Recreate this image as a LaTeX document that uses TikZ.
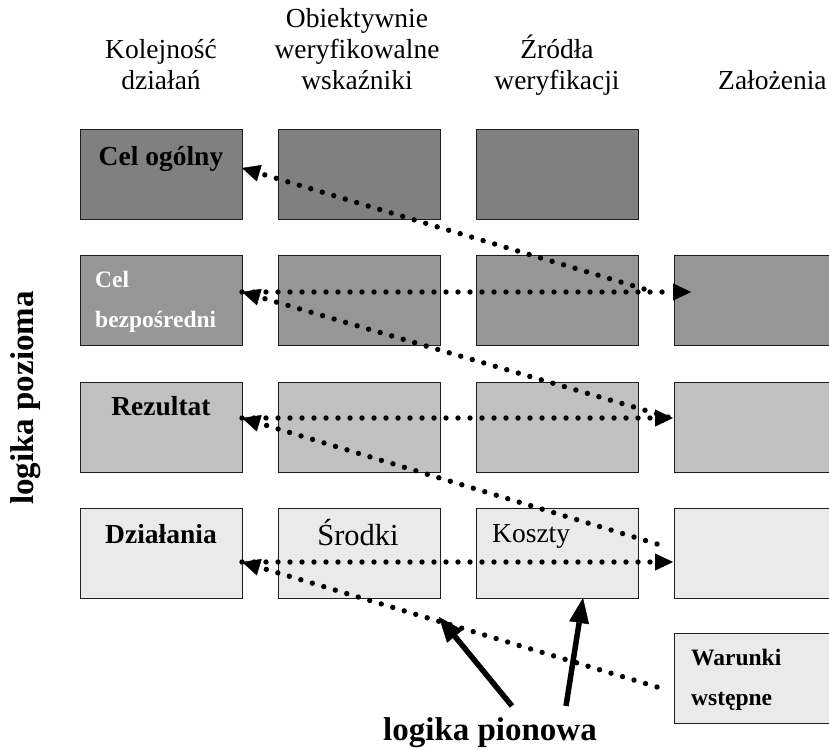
\documentclass[tikz,border=0pt]{standalone}
\usepackage{fontspec}
\setmainfont{Liberation Serif}
\usetikzlibrary{arrows.meta}
\definecolor{rowA}{RGB}{128,128,128}
\definecolor{rowB}{RGB}{150,150,150}
\definecolor{rowC}{RGB}{192,192,192}
\definecolor{rowD}{RGB}{234,234,234}
\definecolor{edge}{RGB}{30,30,30}
\begin{document}
\begin{tikzpicture}[x=1pt,y=-1pt,
  box/.style={draw=edge, line width=1.4pt, minimum width=162pt, minimum height=90pt, inner sep=0pt, anchor=north west},
  hdr/.style={font=\fontsize{27.5}{31}\selectfont, inner sep=0pt, anchor=base},
  lbl/.style={font=\fontsize{27.5}{31}\selectfont\bfseries, inner sep=0pt, anchor=base},
  small/.style={font=\fontsize{23.5}{28}\selectfont\bfseries, inner sep=0pt, anchor=base west},
  big/.style={font=\fontsize{30.5}{34}\selectfont, inner sep=0pt, anchor=base},
  logic/.style={font=\fontsize{33}{38}\selectfont\bfseries, inner sep=0pt, anchor=base},
  dotl/.style={line width=5.4pt, line cap=round, dash pattern=on 0pt off 12pt,
    -{Triangle[length=18pt,width=17pt,line width=0.4pt]}},
  thk/.style={line width=5.5pt, -{Triangle[length=25pt,width=20pt,line width=0.4pt]}}
]
\useasboundingbox (0,0) rectangle (829,749);

% headers
\node[hdr] (h1a) at (161,59) {Kolejność};
\node[hdr] (h1b) at (161,90) {działań};
\node[hdr] (h2a) at (357,28) {Obiektywnie};
\node[hdr] (h2b) at (357,59) {weryfikowalne};
\node[hdr] (h2c) at (357,90) {wskaźniki};
\node[hdr] (h3a) at (557,59) {Źródła};
\node[hdr] (h3b) at (557,90) {weryfikacji};
\node[hdr, anchor=base west] (h4) at (718,90) {Założenia};

% row 1
\node[box, fill=rowA] (b11) at (80,129) {};
\node[box, fill=rowA] (b12) at (278,129) {};
\node[box, fill=rowA] (b13) at (476,129) {};
% row 2
\node[box, fill=rowB] (b21) at (80,255) {};
\node[box, fill=rowB] (b22) at (278,255) {};
\node[box, fill=rowB] (b23) at (476,255) {};
\node[box, fill=rowB] (b24) at (674,255) {};
% row 3
\node[box, fill=rowC] (b31) at (80,382) {};
\node[box, fill=rowC] (b32) at (278,382) {};
\node[box, fill=rowC] (b33) at (476,382) {};
\node[box, fill=rowC] (b34) at (674,382) {};
% row 4
\node[box, fill=rowD] (b41) at (80,508) {};
\node[box, fill=rowD] (b42) at (278,508) {};
\node[box, fill=rowD] (b43) at (476,508) {};
\node[box, fill=rowD] (b44) at (674,508) {};
% preconditions
\node[box, fill=rowD] (b54) at (674,633) {};

% labels
\node[lbl] (t11) at (161,165) {Cel ogólny};
\node[small, text=white] (t21a) at (95,287) {Cel};
\node[small, text=white] (t21b) at (95,327) {bezpośredni};
\node[lbl] (t31) at (161,415) {Rezultat};
\node[lbl] (t41) at (161,543) {Działania};
\node[big] (t42) at (358,545) {Środki};
\node[hdr, anchor=base west] (t43) at (492,542) {Koszty};
\node[small] (t54a) at (691,665) {Warunki};
\node[small] (t54b) at (691,705) {wstępne};

% connector end points
\coordinate (L1) at (242,168);
\coordinate (L2) at (242,292);
\coordinate (L3) at (242,418);
\coordinate (L4) at (242,562);
\coordinate (R2) at (691,292);
\coordinate (R3) at (673,418);
\coordinate (R4) at (673,562);
\coordinate (D1) at (644,289);
\coordinate (D2) at (668,417);
\coordinate (D3) at (657,544);
\coordinate (D4) at (657,687);

% horizontal logic
\draw[dotl] (L2) -- (R2);
\draw[dotl] (L3) -- (R3);
\draw[dotl] (L4) -- (R4);
% diagonal logic
\draw[dotl] (D1) -- (L1);
\draw[dotl] (D2) -- (L2);
\draw[dotl] (D3) -- (L3);
\draw[dotl] (D4) -- (L4);

% vertical logic
\node[logic] (lp) at (490,740) {logika pionowa};
\node[logic, rotate=90] (lh) at (33,398) {logika pozioma};
\coordinate (a1s) at (512,706);
\coordinate (a1e) at (439,617);
\coordinate (a2s) at (566,706);
\coordinate (a2e) at (583,598);
\draw[thk] (a1s) -- (a1e);
\draw[thk] (a2s) -- (a2e);
\end{tikzpicture}
\end{document}
